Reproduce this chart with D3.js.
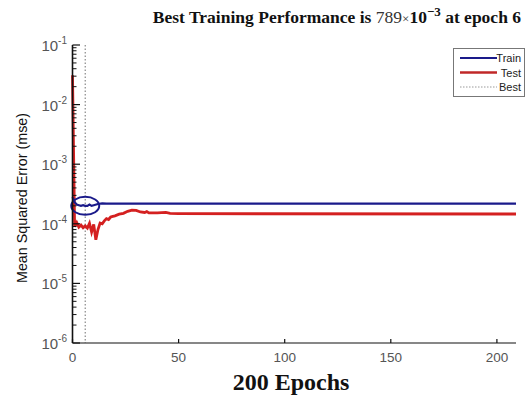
<!DOCTYPE html>
<html><head><meta charset="utf-8">
<script src="https://cdn.jsdelivr.net/npm/d3@7"></script>
<style>body{margin:0;background:#fff}svg{display:block}</style>
</head><body>
<svg id="c" width="530" height="397"></svg>
<script>
// ---- data ----
const trainEpochs = [0,1,2,3,4,5,6,7,8,9,10,12,14,16,209];
const trainValues = [2.8e-4,2.3e-4,2.1e-4,2.05e-4,2.0e-4,2.05e-4,2.0e-4,2.0e-4,2.1e-4,2.0e-4,2.05e-4,2.15e-4,2.2e-4,2.18e-4,2.18e-4];
const testEpochs = [0,1,2,3,4,5,6,7,8,9,10,11,12,13,14,15,16,17,18,19,20,22,24,26,28,30,32,34,35,36,40,44,46,50,209];
const testValues = [3.1e-2,9.0e-5,1.05e-4,8.8e-5,9.5e-5,8.6e-5,9.2e-5,8.5e-5,1.02e-4,7.3e-5,9.8e-5,5.4e-5,8.0e-5,1.03e-4,1.0e-4,1.12e-4,1.22e-4,1.18e-4,1.3e-4,1.33e-4,1.36e-4,1.45e-4,1.5e-4,1.62e-4,1.7e-4,1.68e-4,1.58e-4,1.55e-4,1.6e-4,1.52e-4,1.52e-4,1.55e-4,1.5e-4,1.48e-4,1.46e-4];
const bestEpoch = 6;
const xTicks = [0,50,100,150,200];
const yTickExps = [-1,-2,-3,-4,-5,-6];
const legendLabels = ["Train","Test","Best"];

const svg = d3.select("#c");
const x = d3.scaleLinear().domain([0,209]).range([72.5,516]);
const y = d3.scaleLog().domain([1e-6,1e-1]).range([343,45]);

// best vertical dotted line
svg.append("line").attr("x1",x(bestEpoch)).attr("x2",x(bestEpoch))
  .attr("y1",y(1e-1)).attr("y2",y(1e-6))
  .attr("stroke","#888").attr("stroke-width",1.2).attr("stroke-dasharray","1.5,2");

// lines
const line = d3.line().x(d=>x(d[0])).y(d=>y(d[1]));
svg.append("path").datum(testEpochs.map((e,i)=>[e,testValues[i]]))
  .attr("d",line).attr("fill","none").attr("stroke","#d42020").attr("stroke-width",2.8);
svg.append("path").datum(trainEpochs.map((e,i)=>[e,trainValues[i]]))
  .attr("d",line).attr("fill","none").attr("stroke","#1a1a8a").attr("stroke-width",2.2);

// circle at best
svg.append("ellipse").attr("cx",x(bestEpoch)).attr("cy",y(trainValues[trainEpochs.indexOf(bestEpoch)]))
  .attr("rx",14).attr("ry",9).attr("fill","none").attr("stroke","#1a1a8a").attr("stroke-width",2);

// y axis
const ya = svg.append("g");
ya.append("line").attr("x1",72.5).attr("x2",72.5).attr("y1",y(1e-1)).attr("y2",y(1e-6))
  .attr("stroke","#111").attr("stroke-width",1.6);
const minor = [];
for (let e=-6;e<-1;e++) for (let m=2;m<=9;m++) minor.push(m*Math.pow(10,e));
ya.selectAll("line.mn").data(minor).join("line").attr("class","mn")
  .attr("x1",72.5).attr("x2",76.5).attr("y1",d=>y(d)).attr("y2",d=>y(d))
  .attr("stroke","#111").attr("stroke-width",1);
ya.selectAll("line.mj").data(yTickExps).join("line").attr("class","mj")
  .attr("x1",72.5).attr("x2",80).attr("y1",d=>y(Math.pow(10,d))).attr("y2",d=>y(Math.pow(10,d)))
  .attr("stroke","#111").attr("stroke-width",1.2);
const yl = ya.selectAll("text.yl").data(yTickExps).join("text").attr("class","yl")
  .attr("x",67).attr("y",d=>y(Math.pow(10,d))+6).attr("text-anchor","end")
  .attr("font-family","Liberation Sans, Arial, sans-serif").attr("fill","#555").attr("font-size",15);
yl.append("tspan").text("10");
yl.append("tspan").attr("dy",-7).attr("font-size",10).text(d=>String(d));

// x axis
const xa = svg.append("g");
xa.append("line").attr("x1",72.5).attr("x2",516).attr("y1",343).attr("y2",343)
  .attr("stroke","#111").attr("stroke-width",1.2);
xa.selectAll("line.t").data(xTicks).join("line").attr("class","t")
  .attr("x1",d=>x(d)).attr("x2",d=>x(d)).attr("y1",343).attr("y2",339)
  .attr("stroke","#111").attr("stroke-width",1.2);
xa.selectAll("text").data(xTicks).join("text")
  .attr("x",d=>x(d)).attr("y",362).attr("text-anchor","middle")
  .attr("font-family","Liberation Sans, Arial, sans-serif").attr("fill","#555").attr("font-size",13.5)
  .text(d=>d);

// axis titles
svg.append("text").attr("transform","translate(27,198) rotate(-90)").attr("text-anchor","middle")
  .attr("font-family","Liberation Sans, Arial, sans-serif").attr("font-size",15).attr("fill","#111")
  .attr("textLength",170).attr("lengthAdjust","spacingAndGlyphs")
  .text("Mean Squared Error  (mse)");
svg.append("text").attr("x",291).attr("y",390).attr("text-anchor","middle")
  .attr("font-family","Liberation Serif, Times New Roman, serif").attr("font-weight","bold")
  .attr("font-size",24).attr("fill","#111").text("200 Epochs");

// title
const t = svg.append("text").attr("x",521).attr("y",23).attr("text-anchor","end")
  .attr("font-family","Liberation Serif, Times New Roman, serif").attr("font-weight","bold")
  .attr("font-size",17.5).attr("fill","#111");
t.append("tspan").text("Best Training Performance is ");
t.append("tspan").attr("font-weight","normal").attr("fill","#333").text("789");
t.append("tspan").attr("font-weight","normal").attr("font-size",13).attr("fill","#333").text("\u00d7");
t.append("tspan").text("10");
t.append("tspan").attr("dy",-7).attr("font-size",13).text("\u22123");
t.append("tspan").attr("dy",7).text(" at epoch 6");

// legend
const lg = svg.append("g");
lg.append("rect").attr("x",453.5).attr("y",48.5).attr("width",71).attr("height",48)
  .attr("fill","#fff").attr("stroke","#777").attr("stroke-width",1);
const ls = [{c:"#1a1a8a",w:2,d:null},{c:"#c02828",w:2.4,d:null},{c:"#999",w:1,d:"1.5,1.5"}];
legendLabels.forEach((lab,i)=>{
  const yy = 58 + i*14.5;
  lg.append("line").attr("x1",460).attr("x2",497).attr("y1",yy).attr("y2",yy)
    .attr("stroke",ls[i].c).attr("stroke-width",ls[i].w).attr("stroke-dasharray",ls[i].d);
  lg.append("text").attr("x",521).attr("y",yy+4).attr("text-anchor","end")
    .attr("font-family","Liberation Sans, Arial, sans-serif").attr("font-size",11).attr("fill","#222").text(lab);
});
</script>
</body></html>
